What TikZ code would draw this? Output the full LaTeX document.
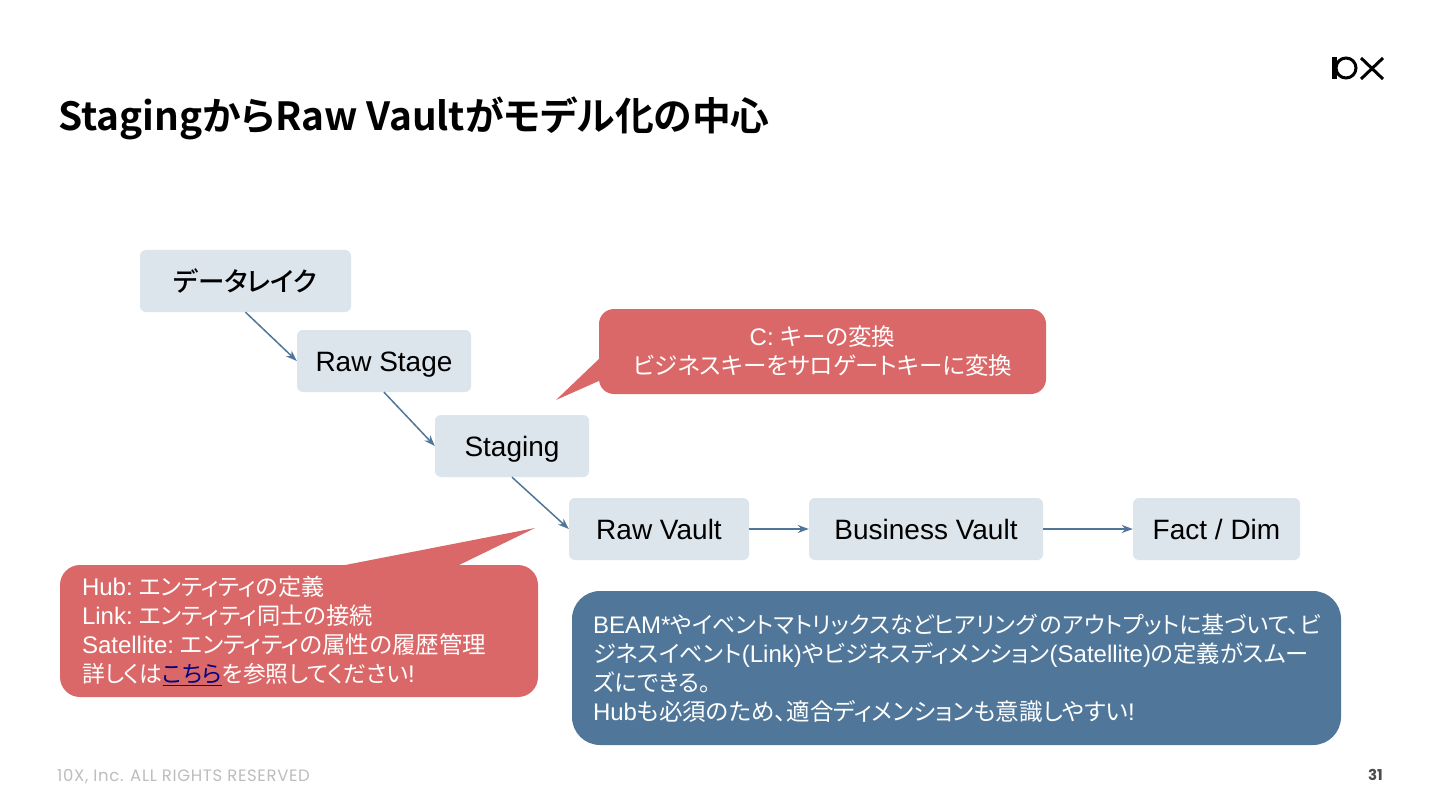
\documentclass[tikz,border=0pt]{standalone}
\usepackage{fontspec}
\usetikzlibrary{arrows.meta}
\setmainfont{Liberation Sans}
\newfontfamily\jp[Scale=0.97,RawFeature=+palt]{Noto Sans CJK JP}
\newfontfamily\jpa[Scale=0.96,RawFeature=+palt]{Noto Sans CJK JP}
\newfontfamily\jpb[Scale=0.98,RawFeature=+palt]{Noto Sans CJK JP}
\newfontfamily\jpc[Scale=0.95,RawFeature=+palt]{Noto Sans CJK JP}
\newfontfamily\jpbig[RawFeature=+palt]{Noto Sans CJK JP Medium}
\newfontfamily\jpt[BoldFont={Noto Sans CJK JP Bold},RawFeature=+palt]{Noto Sans CJK JP}
\newfontfamily\foot[LetterSpace=4]{Poppins}
\newfontfamily\pnum{Poppins}
\newcommand{\J}[1]{{\jp #1}}
\newcommand{\Ja}[1]{{\jpa #1}}
\newcommand{\Jb}[1]{{\jpb #1}}
\newcommand{\Jc}[1]{{\jpc #1}}
\newcommand{\Ln}[1]{\mbox{#1}}
\newcommand{\Tg}{\hspace{-6pt}}
\definecolor{lightbox}{HTML}{DCE4EC}
\definecolor{redbox}{HTML}{DB6868}
\definecolor{bluebox}{HTML}{507799}
\definecolor{linkblue}{HTML}{00007F}
\definecolor{footgrey}{HTML}{BDBDBD}
\tikzset{
 flowbox/.style={fill=lightbox,rounded corners=6pt,inner sep=0pt,font=\fontsize{28}{34}\selectfont,text=black,text height=20pt,text depth=0pt},
 callout/.style={fill=redbox,inner sep=0pt,text=white,font=\fontsize{24}{29}\selectfont},
 flowarrow/.style={draw=bluebox,line width=1.5pt,-{Stealth[length=11pt,width=8pt]}},
}
\begin{document}
\begin{tikzpicture}[x=1pt,y=-1pt]
\useasboundingbox (0,0) rectangle (1440,810);
\fill[white] (0,0) rectangle (1440,810);
% title
\node[anchor=west,inner sep=0pt,font=\fontsize{38.8}{42}\selectfont\bfseries] (title) at (58,118) {{\jpt\bfseries StagingからRaw Vaultがモデル化の中心}};
% logo
\fill[black] (1332,57) rectangle (1337,79);
\draw[black,line width=3pt] (1346,68) circle (10pt);
\draw[black,line width=3pt] (1361,58) -- (1383,79) (1383,58) -- (1361,79);
% flow boxes
\node[flowbox,minimum width=211pt,minimum height=62pt] (lake) at (245.5,281) {{\jpbig\fontsize{26.5}{30}\selectfont データレイク}};
\node[flowbox,minimum width=174pt,minimum height=62pt] (rawstage) at (384,361) {Raw Stage};
\node[flowbox,minimum width=154pt,minimum height=62pt] (staging) at (512,446) {Staging};
\node[flowbox,minimum width=180pt,minimum height=62pt] (rawvault) at (659,529) {Raw Vault};
\node[flowbox,minimum width=234pt,minimum height=62pt] (bizvault) at (926,529) {Business Vault};
\node[flowbox,minimum width=167pt,minimum height=62pt] (factdim) at (1216.5,529) {Fact / Dim};
\draw[flowarrow] (lake.south) -- (rawstage.west);
\draw[flowarrow] (rawstage.south) -- (staging.west);
\draw[flowarrow] (staging.south) -- (rawvault.west);
\draw[flowarrow] (rawvault.east) -- (bizvault.west);
\draw[flowarrow] (bizvault.east) -- (factdim.west);
% top callout
\coordinate (ctip) at (556,400);
\coordinate (cb1) at (601,357);
\coordinate (cb2) at (601,380);
\fill[redbox] (ctip) -- (cb1) -- (cb2) -- cycle;
\node[callout,rounded corners=15pt,minimum width=447pt,minimum height=85pt,align=center] (ckey) at (822.5,351.5) {C: \Jb{キーの変換}\\\Jb{ビジネスキーをサロゲートキーに変換}};
% bottom-left callout
\coordinate (htip) at (535,528);
\coordinate (hb1) at (335,567);
\coordinate (hb2) at (455,567);
\fill[redbox] (htip) -- (hb1) -- (hb2) -- cycle;
\node[callout,rounded corners=20pt,minimum width=478pt,minimum height=132pt,text width=434pt,align=left] (hub) at (299,631) {Hub: \Tg\Ja{エンティティの定義}\\Link: \Tg\J{エンティティ同士の接続}\\Satellite: \Tg\Jb{エンティティの属性の履歴管理}\\\Jc{詳しくは}\textcolor{linkblue}{\underline{\Jc{こちら}}}\Jc{を参照してください}!};
% blue box
\node[fill=bluebox,inner sep=0pt,rounded corners=28pt,text=white,font=\fontsize{24}{29}\selectfont,minimum width=769pt,minimum height=154pt,text width=727pt,align=left] (beam) at (956.5,668) {\Ln{BEAM*\Ja{やイベントマトリックスなどヒアリング\hspace{-4pt} のアウトプットに基づいて、ビ}}\\\Ln{\J{ジネスイベント}(Link)\J{やビジネスディメンション}(Satellite)\J{の定義がスムー}}\\\Ln{\J{ズにできる。}}\\\Ln{Hub\Jb{も必須のため、適合ディメンションも意識しやすい}!}};
% footer
\node[anchor=west,inner sep=0pt,text=footgrey,font=\fontsize{16.5}{18}\selectfont] (rights) at (57,777) {\foot 10X, Inc. ALL RIGHTS RESERVED};
\node[anchor=east,inner sep=0pt,text=black!70,font=\fontsize{15}{18}\selectfont\bfseries] (pageno) at (1383,775) {\pnum\bfseries 31};
\end{tikzpicture}
\end{document}
